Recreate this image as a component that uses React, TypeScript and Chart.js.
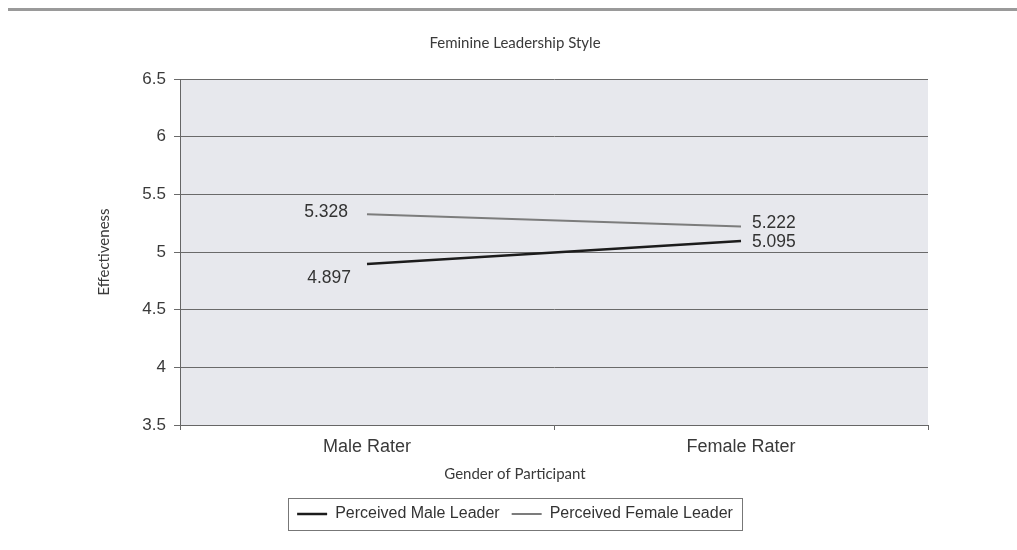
import React, { useEffect, useRef } from "react";
import { Chart, registerables } from "chart.js";

Chart.register(...registerables);

const categories = ["Male Rater", "Female Rater"];
const maleLeader = [4.897, 5.095];
const femaleLeader = [5.328, 5.222];
const seriesNames = ["Perceived Male Leader", "Perceived Female Leader"];
const xAxisTitle = "Gender of Participant";
const yMin = 3.5;
const yMax = 6.5;
const yStep = 0.5;

const TEXT = "#3a3a3a";
const SANS = "'Liberation Sans', Arial, sans-serif";
const HUMAN = "Lato, 'Open Sans', sans-serif";

const plotBg = {
  id: "plotBg",
  beforeDraw(chart: any) {
    const { ctx, chartArea } = chart;
    ctx.save();
    ctx.fillStyle = "#e7e8ed";
    ctx.fillRect(chartArea.left, chartArea.top, chartArea.right - chartArea.left, chartArea.bottom - chartArea.top);
    ctx.restore();
  },
};

const xTitle = {
  id: "xTitle",
  afterDraw(chart: any) {
    const { ctx } = chart;
    const lg = chart.legend;
    const cx = (lg.left + lg.right) / 2;
    ctx.save();
    ctx.font = `15px ${HUMAN}`;
    ctx.fillStyle = TEXT;
    ctx.textAlign = "center";
    ctx.textBaseline = "middle";
    ctx.fillText(xAxisTitle, cx, chart.scales.x.bottom - 20);
    ctx.restore();
  },
};

const valueLabels = {
  id: "valueLabels",
  afterDatasetsDraw(chart: any) {
    const { ctx } = chart;
    ctx.save();
    ctx.font = `17.5px ${SANS}`;
    ctx.fillStyle = "#333";
    ctx.textBaseline = "middle";
    chart.data.datasets.forEach((ds: any, di: number) => {
      const meta = chart.getDatasetMeta(di);
      meta.data.forEach((pt: any, i: number) => {
        const v = ds.data[i];
        const txt = v.toFixed(3);
        const place = ds.labelPlace[i];
        if (place === "left") {
          ctx.textAlign = "right";
          ctx.fillText(txt, pt.x - 19, pt.y - 2);
        } else if (place === "leftBelow") {
          ctx.textAlign = "right";
          ctx.fillText(txt, pt.x - 16, pt.y + 14);
        } else if (place === "rightAbove") {
          ctx.textAlign = "left";
          ctx.fillText(txt, pt.x + 11, pt.y - 3);
        } else {
          ctx.textAlign = "left";
          ctx.fillText(txt, pt.x + 11, pt.y + 1);
        }
      });
    });
    ctx.restore();
  },
};

const legendBox = {
  id: "legendBox",
  afterDraw(chart: any) {
    const lg = chart.legend;
    if (!lg || !lg.legendHitBoxes || !lg.legendHitBoxes.length) return;
    const boxes = lg.legendHitBoxes;
    let l = Infinity, r = -Infinity, t = Infinity, b = -Infinity;
    boxes.forEach((h: any) => {
      l = Math.min(l, h.left);
      r = Math.max(r, h.left + h.width);
      t = Math.min(t, h.top);
      b = Math.max(b, h.top + h.height);
    });
    const { ctx } = chart;
    ctx.save();
    ctx.strokeStyle = "#777";
    ctx.lineWidth = 1;
    ctx.strokeRect(Math.round(l - 9) + 0.5, Math.round(t - 8) + 0.5, Math.round(r - l + 18), Math.round(b - t + 16));
    ctx.restore();
  },
};

export default function App() {
  const ref = useRef<HTMLCanvasElement | null>(null);

  useEffect(() => {
    if (!ref.current) return;
    const chart = new Chart(ref.current, {
      type: "line",
      data: {
        labels: categories,
        datasets: [
          {
            label: seriesNames[0],
            data: maleLeader,
            borderColor: "#1c1c1c",
            backgroundColor: "#1c1c1c",
            borderWidth: 2.5,
            pointRadius: 0,
            tension: 0,
            labelPlace: ["leftBelow", "right"],
          } as any,
          {
            label: seriesNames[1],
            data: femaleLeader,
            borderColor: "#7c7c7c",
            backgroundColor: "#7c7c7c",
            borderWidth: 2,
            pointRadius: 0,
            tension: 0,
            labelPlace: ["left", "rightAbove"],
          } as any,
        ],
      },
      options: {
        animation: false,
        responsive: false,
        maintainAspectRatio: false,
        layout: { padding: { left: 102, right: 89, top: 0, bottom: 18 } },
        plugins: {
          title: {
            display: true,
            text: "Feminine Leadership Style",
            color: TEXT,
            font: { family: HUMAN, size: 15, weight: "normal" },
            padding: { top: 34, bottom: 27 },
          },
          legend: {
            position: "bottom",
            labels: {
              usePointStyle: true,
              pointStyle: "line",
              pointStyleWidth: 30,
              boxHeight: 16,
              padding: 12,
              color: "#333",
              font: { family: SANS, size: 16 },
            },
          },
          tooltip: { enabled: false },
        },
        scales: {
          x: {
            offset: true,
            grid: {
              display: true,
              drawOnChartArea: false,
              offset: true,
              color: "#666",
              tickLength: 5,
            },
            border: { color: "#666", width: 1 },
            ticks: { color: "#3a3a3a", font: { family: SANS, size: 18 }, padding: 6.5, maxRotation: 0 },
            title: { display: false },
            afterFit(scale: any) {
              scale.height = 69;
            },
          },
          y: {
            min: yMin,
            max: yMax,
            grid: { color: "#6a6a6a", tickLength: 6, lineWidth: 1 },
            border: { color: "#666", width: 1 },
            ticks: {
              stepSize: yStep,
              color: "#3a3a3a",
              font: { family: SANS, size: 17 },
              padding: 8,
              callback: (v: any) => String(v),
            },
            title: {
              display: true,
              text: "Effectiveness",
              color: TEXT,
              font: { family: HUMAN, size: 15 },
              padding: { top: -7, bottom: 4 },
            },
            afterFit(scale: any) {
              scale.width = 78;
            },
          },
        },
      } as any,
      plugins: [plotBg, valueLabels, legendBox, xTitle],
    });
    return () => chart.destroy();
  }, []);

  return (
    <div style={{ position: "fixed", left: 0, top: 0, width: 1017, height: 550, background: "#fff" }}>
      <div style={{ position: "absolute", left: 8, top: 8, width: 1009, height: 3, background: "#9a9a9a" }} />
      <canvas ref={ref} width={1017} height={550} style={{ position: "absolute", left: 0, top: 0 }} />
    </div>
  );
}
